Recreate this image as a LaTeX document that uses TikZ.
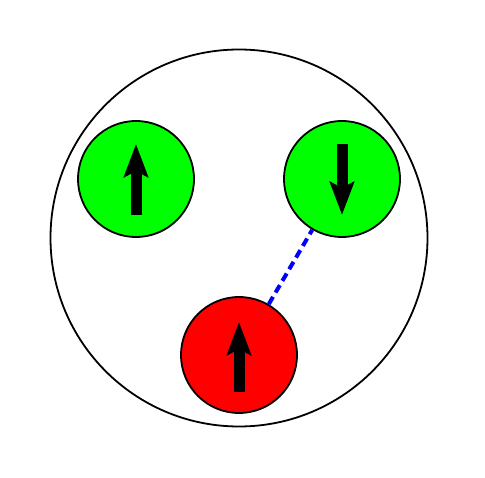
\documentclass[tikz,border=0pt]{standalone}
\usetikzlibrary{arrows.meta}
\begin{document}
\begin{tikzpicture}[x=1pt,y=-1pt,
  ball/.style={circle,draw=black,line width=1.8pt,minimum size=116pt,inner sep=0pt},
  spin/.style={line width=11pt,-{Stealth[length=33pt,width=24pt,inset=6pt]}},
  bond/.style={blue,line width=4pt,dash pattern=on 8.5pt off 5pt}]
\useasboundingbox (0,0) rectangle (485,478);
\node[circle,draw=black,line width=1.8pt,minimum size=377pt,inner sep=0pt] (outer) at (239,238) {};
\node[ball,fill=green] (g1) at (136,179) {};
\node[ball,fill=green] (g2) at (342,179) {};
\node[ball,fill=red] (r) at (239,355) {};
\draw[bond] (r) -- (g2);
\draw[spin] ([yshift=-36pt]g1.center) -- ([yshift=35pt]g1.center);
\draw[spin] ([yshift=35pt]g2.center) -- ([yshift=-36pt]g2.center);
\draw[spin] ([yshift=-37pt]r.center) -- ([yshift=33pt]r.center);
\end{tikzpicture}
\end{document}
